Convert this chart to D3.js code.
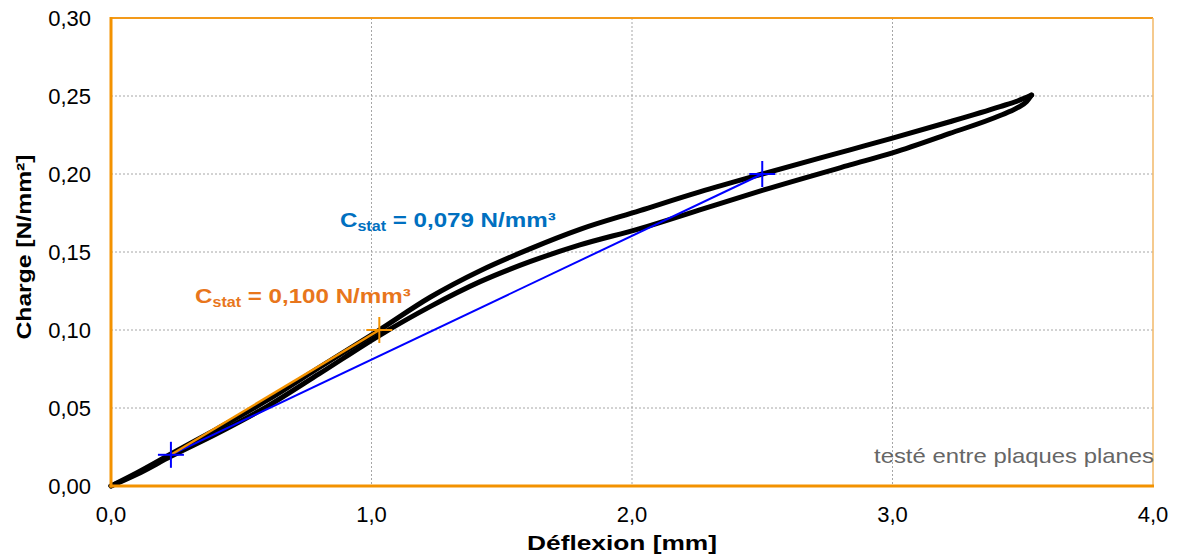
<!DOCTYPE html>
<html><head><meta charset="utf-8">
<script src="https://cdn.jsdelivr.net/npm/d3@7"></script>
<style>body{margin:0;background:#fff}svg{display:block}text{font-family:"Liberation Sans",Arial,sans-serif}</style>
</head><body><svg id="c" width="1180" height="556"></svg>
<script>
// Data (deflexion mm, charge N/mm²)
const loadX   = [0, 0.10, 0.23, 0.40, 0.60, 0.80, 1.033, 1.225, 1.417, 1.608, 1.80, 2.03, 2.26, 2.50, 2.837, 3.00, 3.22, 3.413, 3.48, 3.515, 3.534];
const loadY   = [0, 0.0075, 0.019, 0.033, 0.051, 0.072, 0.0968, 0.1150, 0.1310, 0.1438, 0.1545, 0.1650, 0.1770, 0.1895, 0.2058, 0.2135, 0.2260, 0.2375, 0.2425, 0.2465, 0.2506];
const unloadX = [0, 0.10, 0.23, 0.40, 0.60, 0.80, 1.03, 1.225, 1.417, 1.608, 1.80, 2.03, 2.26, 2.50, 2.837, 3.00, 3.22, 3.413, 3.48, 3.534];
const unloadY = [0, 0.0085, 0.0205, 0.036, 0.055, 0.076, 0.100, 0.1210, 0.1380, 0.1520, 0.1645, 0.1765, 0.1885, 0.2000, 0.2155, 0.2230, 0.2335, 0.2432, 0.2468, 0.2506];
const blueX = [0.23, 2.50], blueY = [0.020, 0.200];
const orangeX = [0.23, 1.03], orangeY = [0.020, 0.100];
const xTicks = [0, 1, 2, 3, 4];
const yTicks = [0, 0.05, 0.10, 0.15, 0.20, 0.25, 0.30];
const xTickLabels = ["0,0","1,0","2,0","3,0","4,0"];
const yTickLabels = ["0,00","0,05","0,10","0,15","0,20","0,25","0,30"];
const labelBlue = {x: 0.879, y: 0.1662, val: " = 0,079 N/mm³"};
const labelOrange = {x: 0.3225, y: 0.1173, val: " = 0,100 N/mm³"};
const note = "testé entre plaques planes";

const svg = d3.select("#c");
const L = 111, R = 1153, T = 18, B = 486;
const x = d3.scaleLinear().domain([0, 4]).range([L, R]);
const y = d3.scaleLinear().domain([0, 0.30]).range([B, T]);

// grid
const grid = svg.append("g").attr("stroke", "#a6a6a6").attr("stroke-width", 1).attr("stroke-dasharray", "2,2");
xTicks.slice(1, -1).forEach(v => grid.append("line").attr("x1", x(v)).attr("x2", x(v)).attr("y1", T).attr("y2", B));
yTicks.slice(1, -1).forEach(v => grid.append("line").attr("x1", L).attr("x2", R).attr("y1", y(v)).attr("y2", y(v)));

// frame
svg.append("line").attr("x1", L).attr("x2", R).attr("y1", T).attr("y2", T).attr("stroke", "#f39a1a").attr("stroke-width", 2);
svg.append("line").attr("x1", R).attr("x2", R).attr("y1", T).attr("y2", B).attr("stroke", "#f2b868").attr("stroke-width", 1.5);

// hysteresis curve
const line = d3.line().x(d => x(d[0])).y(d => y(d[1])).curve(d3.curveMonotoneX);
[[loadX, loadY], [unloadX, unloadY]].forEach(([xs, ys]) => {
  svg.append("path").attr("d", line(xs.map((d, i) => [d, ys[i]])))
    .attr("fill", "none").attr("stroke", "#000").attr("stroke-width", 5)
    .attr("stroke-linejoin", "round").attr("stroke-linecap", "round");
});

// secant lines
const sl = d3.line().x(d => x(d[0])).y(d => y(d[1]));
svg.append("path").attr("d", sl(blueX.map((d, i) => [d, blueY[i]]))).attr("stroke", "#0000ff").attr("stroke-width", 2).attr("fill", "none");
svg.append("path").attr("d", sl(orangeX.map((d, i) => [d, orangeY[i]]))).attr("stroke", "#f39200").attr("stroke-width", 2.5).attr("fill", "none");

function cross(px, py, col) {
  const g = svg.append("g").attr("stroke", col).attr("stroke-width", 2);
  g.append("line").attr("x1", x(px) - 13).attr("x2", x(px) + 13).attr("y1", y(py)).attr("y2", y(py));
  g.append("line").attr("x1", x(px)).attr("x2", x(px)).attr("y1", y(py) - 13).attr("y2", y(py) + 13);
}
cross(orangeX[1], orangeY[1], "#f39200");
blueX.forEach((d, i) => cross(d, blueY[i], "#0000ff"));

// axes lines (thick orange)
svg.append("line").attr("x1", L).attr("x2", L).attr("y1", T - 1).attr("y2", B + 1.5).attr("stroke", "#f39200").attr("stroke-width", 3);
svg.append("line").attr("x1", L - 1.5).attr("x2", R + 1).attr("y1", B).attr("y2", B).attr("stroke", "#f39200").attr("stroke-width", 3);

// tick labels
const fs = 22;
svg.append("g").selectAll("text").data(xTicks).join("text")
  .attr("x", d => x(d)).attr("y", B + 36).attr("text-anchor", "middle").attr("font-size", fs).attr("fill", "#000")
  .text((d, i) => xTickLabels[i]);
svg.append("g").selectAll("text").data(yTicks).join("text")
  .attr("x", 91).attr("y", d => y(d) + 8).attr("text-anchor", "end").attr("font-size", fs).attr("fill", "#000")
  .text((d, i) => yTickLabels[i]);

// axis titles
svg.append("text").attr("x", 622).attr("y", B + 64).attr("text-anchor", "middle").attr("font-size", 21).attr("font-weight", "bold")
  .attr("textLength", 190).attr("lengthAdjust", "spacingAndGlyphs").text("Déflexion [mm]");
svg.append("text").attr("transform", `translate(31,247) rotate(-90)`).attr("text-anchor", "middle").attr("font-size", 21).attr("font-weight", "bold")
  .attr("textLength", 185).attr("lengthAdjust", "spacingAndGlyphs").text("Charge [N/mm²]");

// annotation labels
function clabel(o, col) {
  const g = svg.append("g").attr("transform", `translate(${x(o.x)},${y(o.y)}) scale(1.15,1)`);
  const t = g.append("text").attr("x", 0).attr("y", 0).attr("font-weight", "bold").attr("fill", col).attr("font-size", 21);
  t.append("tspan").text("C");
  t.append("tspan").attr("font-size", 14).attr("dy", 4).text("stat");
  t.append("tspan").attr("dy", -4).text(o.val);
}
clabel(labelBlue, "#0070c0");
clabel(labelOrange, "#e8761c");

svg.append("text").attr("x", R + 1).attr("y", 463).attr("text-anchor", "end").attr("font-size", 21).attr("fill", "#666")
  .attr("textLength", 280).attr("lengthAdjust", "spacingAndGlyphs").text(note);
</script></body></html>
